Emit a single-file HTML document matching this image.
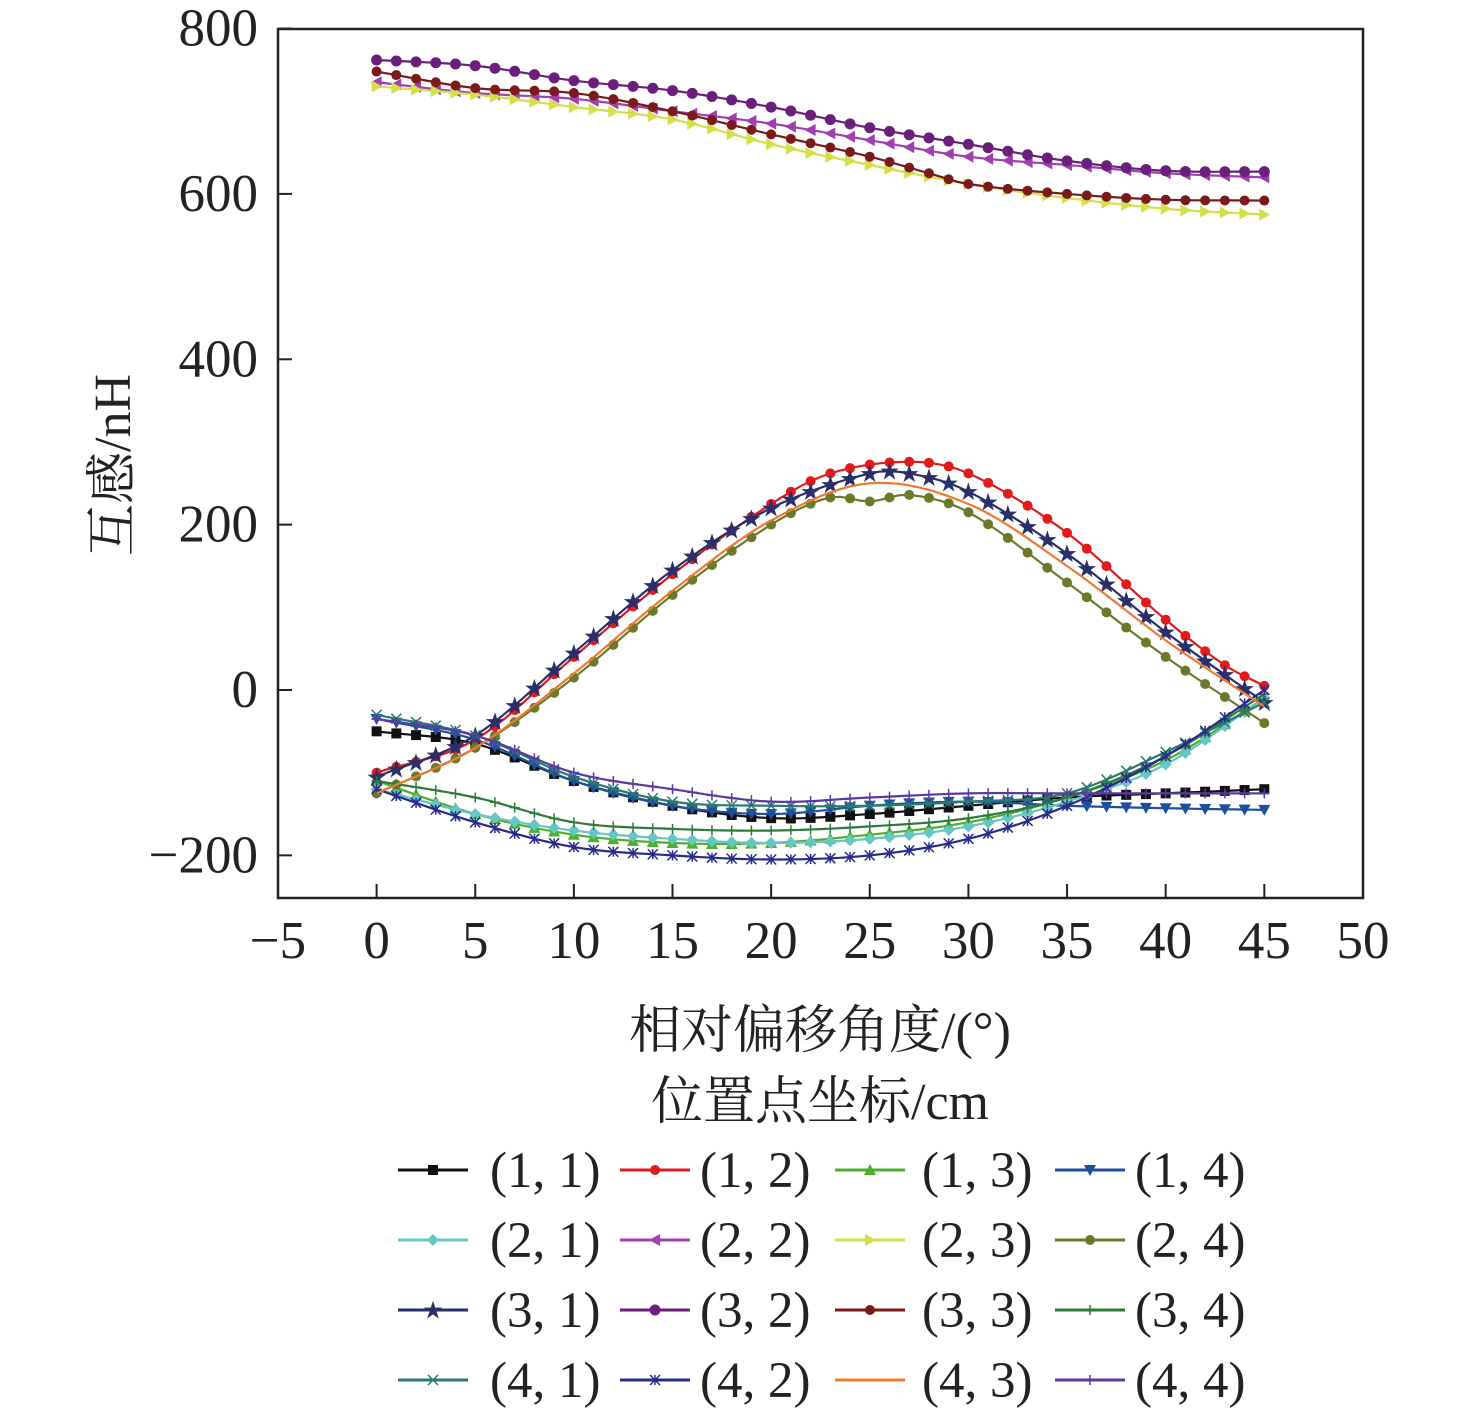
<!DOCTYPE html>
<html><head><meta charset="utf-8"><style>
body{margin:0;background:#fff;}
svg text{font-family:"Liberation Serif","Noto Serif CJK SC",serif;fill:#222;}
</style></head><body>
<svg id="s" width="1476" height="1409" xmlns="http://www.w3.org/2000/svg">
<rect x="278" y="29" width="1085" height="869" fill="none" stroke="#222" stroke-width="2.5"/>
<g id="ax"></g><g id="plot"></g><g id="leg"></g>
<text x="820" y="1048" font-size="52" text-anchor="middle">相对偏移角度/(°)</text>
<text x="820" y="1119" font-size="52" text-anchor="middle">位置点坐标/cm</text>
<text transform="translate(130,465) rotate(-90)" font-size="52" text-anchor="middle">互感/nH</text>
</svg>
<script>
const NS="http://www.w3.org/2000/svg";
function el(p,t,a,txt){const e=document.createElementNS(NS,t);for(const k in a)e.setAttribute(k,a[k]);if(txt!==undefined)e.textContent=txt;p.appendChild(e);return e;}
const X=v=>376.6+v*19.727, Y=v=>690-v*0.8268;
const ax=document.getElementById('ax');
for(let v=-5;v<=50;v+=5){const x=X(v);el(ax,'line',{x1:x,y1:898,x2:x,y2:884,stroke:'#222','stroke-width':2});
el(ax,'text',{x:x,y:958,'font-size':53,'text-anchor':'middle'},v<0?'\u2212'+(-v):v);}
for(let v=-200;v<=800;v+=200){const y=Y(v);el(ax,'line',{x1:278,y1:y,x2:292,y2:y,stroke:'#222','stroke-width':2});
el(ax,'text',{x:258,y:y+17,'font-size':53,'text-anchor':'end'},v<0?'\u2212'+(-v):v);}
function interp(k,x){const xs=k.map(p=>p[0]),ys=k.map(p=>p[1]);let i=0;while(i<xs.length-2&&x>xs[i+1])i++;
const sl=j=>{if(j==0)return (ys[1]-ys[0])/(xs[1]-xs[0]);if(j==xs.length-1)return (ys[j]-ys[j-1])/(xs[j]-xs[j-1]);return (ys[j+1]-ys[j-1])/(xs[j+1]-xs[j-1]);};
const h=xs[i+1]-xs[i],t=(x-xs[i])/h,t2=t*t,t3=t2*t;
return (2*t3-3*t2+1)*ys[i]+(t3-2*t2+t)*h*sl(i)+(-2*t3+3*t2)*ys[i+1]+(t3-t2)*h*sl(i+1);}
const S=[
["(1, 1)","#111","sq",[[0,-50],[5,-65],[10,-110],[15,-140],[20,-155],[25,-150],[30,-140],[35,-130],[40,-125],[45,-120]]],
["(1, 2)","#e31a1c","ci",[[0,-100],[5,-60],[10,40],[15,140],[20,225],[23,262],[27,276],[30,262],[35,190],[40,85],[43,30],[45,5]]],
["(1, 3)","#4daf2e","tu",[[0,-110],[5,-150],[10,-175],[15,-185],[20,-185],[25,-175],[30,-160],[35,-130],[40,-85],[45,-10]]],
["(1, 4)","#1f4e9e","td",[[0,-35],[5,-60],[10,-110],[15,-140],[20,-150],[25,-140],[30,-135],[35,-140],[40,-143],[45,-145]]],
["(2, 1)","#66c5c5","di",[[0,-120],[5,-150],[10,-170],[15,-180],[20,-185],[25,-180],[30,-165],[35,-135],[40,-90],[45,-10]]],
["(2, 2)","#a040b0","tl",[[0,735],[5,722],[10,715],[15,700],[20,685],[25,665],[30,645],[35,635],[40,625],[45,620]]],
["(2, 3)","#d4e04a","tr",[[0,730],[5,720],[10,705],[15,690],[20,660],[25,635],[30,612],[35,595],[40,582],[45,575]]],
["(2, 4)","#6b7a2a","ci",[[0,-125],[5,-70],[10,15],[15,115],[20,200],[23,233],[25,228],[27,236],[30,215],[35,130],[40,40],[45,-40]]],
["(3, 1)","#2a2f6a","st",[[0,-105],[5,-55],[10,45],[15,145],[20,220],[25,262],[27,262],[30,240],[35,165],[40,70],[45,-15]]],
["(3, 2)","#6a1f7a","pe",[[0,762],[5,755],[10,737],[15,725],[20,705],[25,680],[30,660],[35,640],[40,628],[45,627]]],
["(3, 3)","#7a1a1a","ci",[[0,748],[5,728],[10,722],[15,700],[20,672],[25,645],[28,625],[30,612],[35,600],[40,593],[45,592]]],
["(3, 4)","#2e7a3a","pl",[[0,-110],[5,-130],[10,-160],[15,-168],[20,-170],[25,-165],[30,-155],[35,-130],[40,-80],[45,-5]]],
["(4, 1)","#2a7a70","x",[[0,-30],[5,-55],[10,-105],[15,-135],[20,-140],[25,-140],[30,-135],[35,-125],[40,-75],[45,-15]]],
["(4, 2)","#2a2a8a","as",[[0,-120],[5,-160],[10,-190],[15,-200],[20,-205],[25,-200],[30,-180],[35,-140],[40,-80],[45,0]]],
["(4, 3)","#ee7a30","no",[[0,-125],[5,-70],[10,20],[15,120],[20,205],[25,250],[30,225],[35,150],[40,60],[45,-20]]],
["(4, 4)","#5a3aa0","pl",[[0,-35],[5,-55],[10,-100],[15,-120],[20,-135],[25,-130],[30,-125],[35,-125],[40,-125],[45,-125]]]];
function mk(g,t,x,y,c){const r=5;
switch(t){case'sq':el(g,'rect',{x:x-r,y:y-r,width:2*r,height:2*r,fill:c});break;
case'ci':el(g,'circle',{cx:x,cy:y,r:r,fill:c});break;
case'tu':el(g,'polygon',{points:`${x},${y-r-1} ${x-r-1},${y+r} ${x+r+1},${y+r}`,fill:c});break;
case'td':el(g,'polygon',{points:`${x},${y+r+1} ${x-r-1},${y-r} ${x+r+1},${y-r}`,fill:c});break;
case'tl':el(g,'polygon',{points:`${x-r-1},${y} ${x+r},${y-r-1} ${x+r},${y+r+1}`,fill:c});break;
case'tr':el(g,'polygon',{points:`${x+r+1},${y} ${x-r},${y-r-1} ${x-r},${y+r+1}`,fill:c});break;
case'di':el(g,'polygon',{points:`${x},${y-r-1} ${x+r+1},${y} ${x},${y+r+1} ${x-r-1},${y}`,fill:c});break;
case'st':el(g,'text',{x:x,y:y+7,'font-size':20,'text-anchor':'middle',style:'fill:'+c},'★');break;
case'pe':el(g,'circle',{cx:x,cy:y,r:r+0.5,fill:c});break;
case'pl':el(g,'path',{d:`M${x-r} ${y}H${x+r}M${x} ${y-r}V${y+r}`,stroke:c,'stroke-width':1.5});break;
case'x':el(g,'path',{d:`M${x-r} ${y-r}L${x+r} ${y+r}M${x-r} ${y+r}L${x+r} ${y-r}`,stroke:c,'stroke-width':1.5});break;
case'as':el(g,'path',{d:`M${x-r} ${y-r}L${x+r} ${y+r}M${x-r} ${y+r}L${x+r} ${y-r}M${x} ${y-r}V${y+r}`,stroke:c,'stroke-width':1.5});break;}}
const pl=document.getElementById('plot'),lg=document.getElementById('leg');
const cx=[398,620,835,1055],tx=[490,700,922,1135],ry=[1170,1240,1310,1380];
S.forEach((s,i)=>{const[n,c,m,k]=s;let d='';const pts=[];
for(let v=0;v<=45;v+=0.5){const y=interp(k,v);d+=(v?'L':'M')+X(v).toFixed(1)+' '+Y(y).toFixed(1);if(v%1==0)pts.push([X(v),Y(y)]);}
const g=el(pl,'g',{});el(g,'path',{d:d,fill:'none',stroke:c,'stroke-width':2.2});
if(m!='no')pts.forEach(p=>mk(g,m,p[0],p[1],c));
const col=i%4,row=Math.floor(i/4),y=ry[row];
el(lg,'line',{x1:cx[col],y1:y,x2:cx[col]+70,y2:y,stroke:c,'stroke-width':3});
if(m!='no')mk(lg,m,cx[col]+35,y,c);
el(lg,'text',{x:tx[col],y:y+17,'font-size':51},n);});
</script>
</body></html>
